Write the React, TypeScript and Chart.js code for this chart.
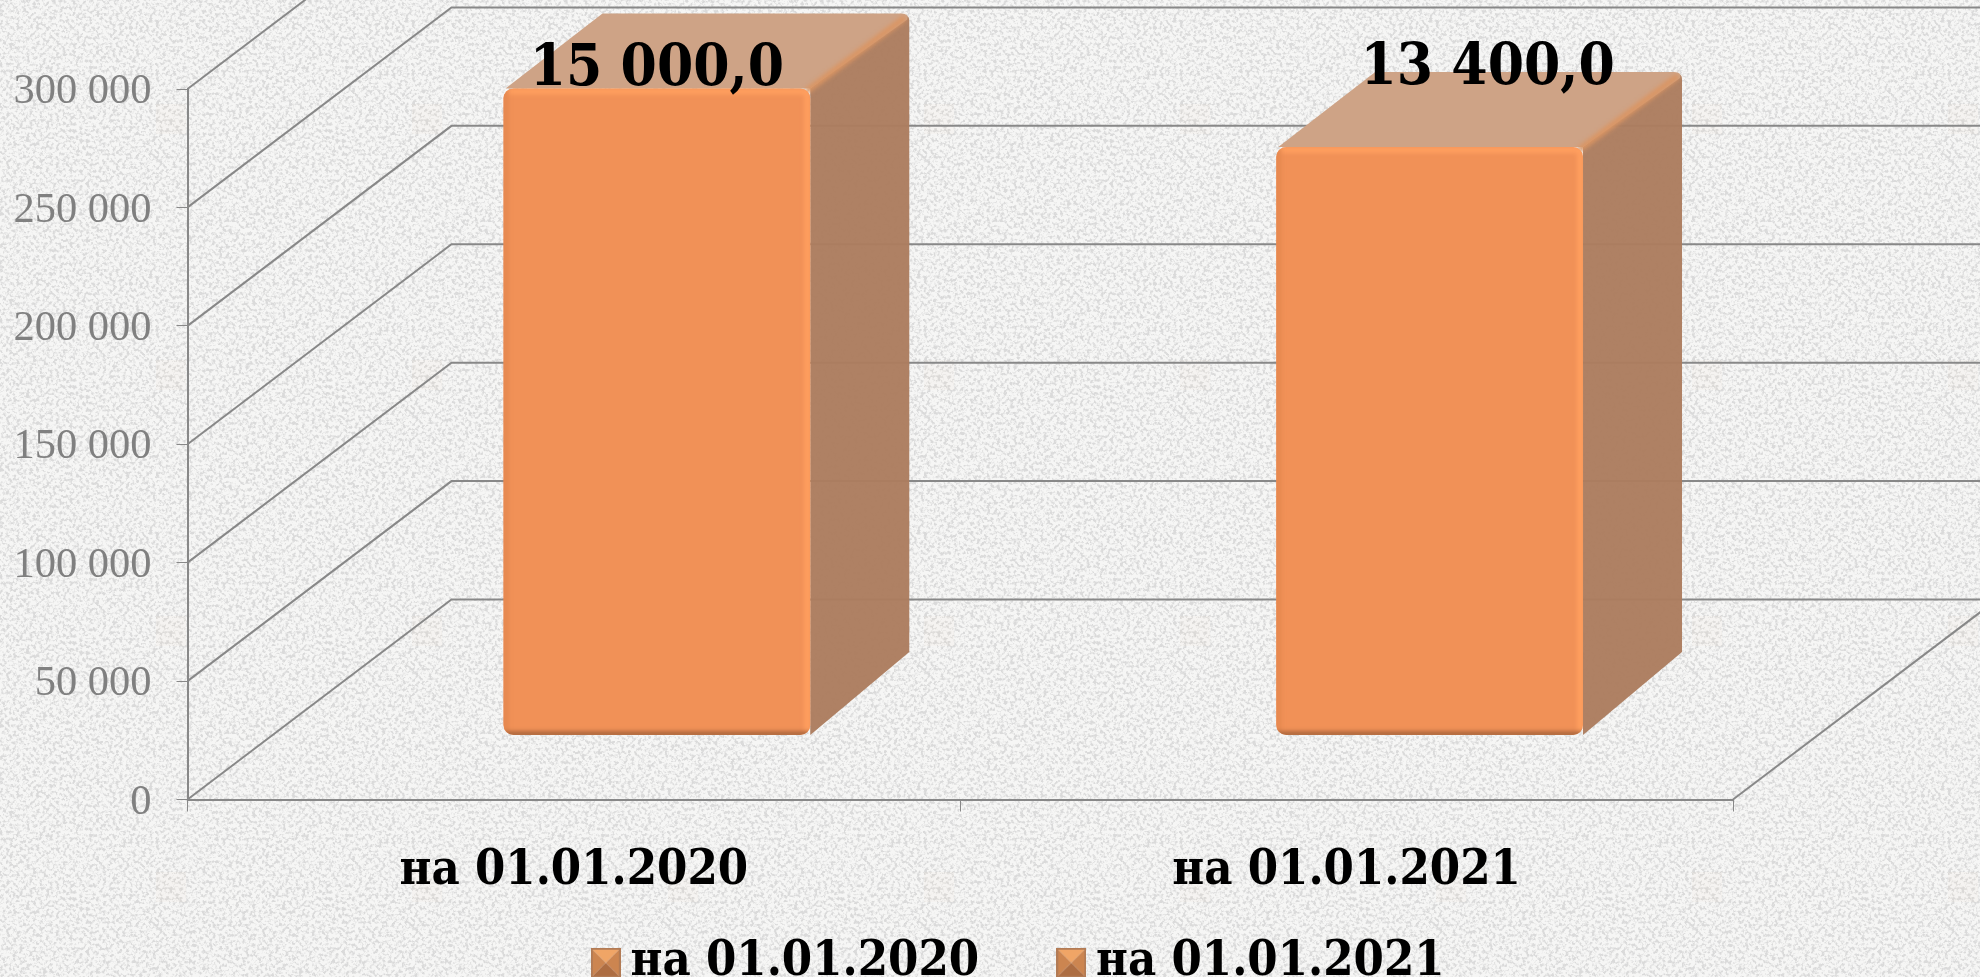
import React, { useEffect, useRef } from "react";
import { Chart, registerables } from "chart.js";

Chart.register(...registerables);

const categories = ["на 01.01.2020", "на 01.01.2021"];
const barValues = [273200, 248500];
const barLabels = ["15 000,0", "13 400,0"];
const yTickLabels = ["0", "50 000", "100 000", "150 000", "200 000", "250 000", "300 000"];

const SERIF = '"Liberation Serif", serif';
const SLAB = '"DejaVu Serif Condensed", "DejaVu Serif", serif';
const WALL = { dx: 264, dy: 200 };
const BAR_SHIFT = { dx: 83, dy: 64 };
const BAR_DEPTH = { dx: 99, dy: 75 };
const LINE = "#888888";
const LEGEND_GAP = "\u00A0\u00A0\u00A0\u00A0\u00A0\u2009";

const tileSvg = `<svg xmlns="http://www.w3.org/2000/svg" width="256" height="256">
<filter id="n" x="0" y="0" width="100%" height="100%">
<feTurbulence type="fractalNoise" baseFrequency="0.3" numOctaves="3" seed="7" stitchTiles="stitch"/>
<feColorMatrix values="0 0 0 0 0.7  0 0 0 0 0.7  0 0 0 0 0.7  4.5 0 0 0 -2.05"/>
</filter>
<rect width="256" height="256" fill="#f6f6f5"/>
<rect width="256" height="256" filter="url(#n)"/>
<rect x="156" y="104" width="30" height="30" fill="#e8c8a8" opacity="0.05"/>
</svg>`;
const tileUrl = `url("data:image/svg+xml,${encodeURIComponent(tileSvg)}")`;

function makeMarker(): HTMLCanvasElement {
  const c = document.createElement("canvas");
  c.width = 30;
  c.height = 30;
  const g = c.getContext("2d")!;
  const tri = (col: string, pts: number[]) => {
    g.fillStyle = col;
    g.beginPath();
    g.moveTo(pts[0], pts[1]);
    g.lineTo(pts[2], pts[3]);
    g.lineTo(15, 15);
    g.closePath();
    g.fill();
  };
  tri("#F0A566", [0, 0, 30, 0]);
  tri("#CC8550", [0, 0, 0, 30]);
  tri("#CC8550", [30, 0, 30, 30]);
  tri("#AD6D42", [0, 30, 30, 30]);
  g.strokeStyle = "#B27B55";
  g.lineWidth = 2;
  g.strokeRect(1, 1, 28, 28);
  return c;
}

const box3d = {
  id: "box3d",
  beforeDatasetsDraw(chart: any) {
    const { ctx, chartArea: a, width } = chart;
    const y = chart.scales.y;
    ctx.save();
    ctx.strokeStyle = LINE;
    ctx.lineWidth = 2;
    y.ticks.forEach((t: any) => {
      const py = y.getPixelForValue(t.value);
      ctx.beginPath();
      ctx.moveTo(a.left, py);
      ctx.lineTo(a.left + WALL.dx, py - WALL.dy);
      ctx.lineTo(width, py - WALL.dy);
      ctx.stroke();
    });
    ctx.beginPath();
    ctx.moveTo(a.right, a.bottom);
    ctx.lineTo(a.right + WALL.dx, a.bottom - WALL.dy);
    ctx.stroke();
    ctx.restore();

    ctx.save();
    ctx.translate(BAR_SHIFT.dx, -BAR_SHIFT.dy);
    ctx.lineJoin = "round";
    chart.getDatasetMeta(0).data.forEach((el: any) => {
      const x0 = el.x - el.width / 2;
      const x1 = el.x + el.width / 2;
      const top = el.y;
      const bot = el.base;
      const { dx, dy } = BAR_DEPTH;
      ctx.fillStyle = "rgba(172,125,95,0.97)";
      ctx.beginPath();
      ctx.moveTo(x1, top);
      ctx.lineTo(x1 + dx - 6, top - dy + 4);
      ctx.quadraticCurveTo(x1 + dx, top - dy, x1 + dx, top - dy + 8);
      ctx.lineTo(x1 + dx, bot - dy - 8);
      ctx.lineTo(x1, bot);
      ctx.closePath();
      ctx.fill();
      ctx.fillStyle = "#CEA386";
      ctx.beginPath();
      ctx.moveTo(x0 + 2, top);
      ctx.lineTo(x0 + dx, top - dy);
      ctx.lineTo(x1 + dx - 8, top - dy);
      ctx.quadraticCurveTo(x1 + dx, top - dy, x1 + dx - 2, top - dy + 6);
      ctx.lineTo(x1, top);
      ctx.closePath();
      ctx.fill();
      ctx.save();
      ctx.filter = "blur(2px)";
      ctx.strokeStyle = "#DA9563";
      ctx.lineWidth = 6;
      ctx.beginPath();
      ctx.moveTo(x1 - 4, top + 3);
      ctx.lineTo(x1 + dx - 4, top - dy + 4);
      ctx.stroke();
      ctx.restore();
    });
  },
  afterDatasetsDraw(chart: any) {
    const { ctx } = chart;
    chart.getDatasetMeta(0).data.forEach((el: any) => {
      const x0 = el.x - el.width / 2;
      const x1 = el.x + el.width / 2;
      const top = el.y;
      const bot = el.base;
      ctx.save();
      ctx.beginPath();
      ctx.roundRect(x0, top, x1 - x0, bot - top, 10);
      ctx.clip();
      ctx.filter = "blur(2px)";
      ctx.lineWidth = 6;
      ctx.strokeStyle = "#FF9F5F";
      ctx.beginPath();
      ctx.moveTo(x0, top + 3);
      ctx.lineTo(x1, top + 3);
      ctx.moveTo(x1 - 3, top);
      ctx.lineTo(x1 - 3, bot);
      ctx.stroke();
      ctx.strokeStyle = "#E5884F";
      ctx.beginPath();
      ctx.moveTo(x0 + 2, top);
      ctx.lineTo(x0 + 2, bot);
      ctx.stroke();
      ctx.strokeStyle = "#A3623A";
      ctx.lineWidth = 5;
      ctx.beginPath();
      ctx.moveTo(x0, bot - 1);
      ctx.lineTo(x1, bot - 1);
      ctx.stroke();
      ctx.restore();
    });
    ctx.restore();

    ctx.save();
    ctx.fillStyle = "#000";
    ctx.font = `bold 58px ${SLAB}`;
    ctx.textAlign = "center";
    ctx.textBaseline = "alphabetic";
    chart.getDatasetMeta(0).data.forEach((el: any, i: number) => {
      const lift = i === 0 ? 0 : 60;
      const slide = i === 0 ? 0 : 58;
      ctx.fillText(barLabels[i], el.x + BAR_SHIFT.dx + slide, el.y - BAR_SHIFT.dy - 3 - lift);
    });
    ctx.restore();
  },
};

export default function App() {
  const ref = useRef<HTMLCanvasElement>(null);
  useEffect(() => {
    const marker = makeMarker();
    const chart = new Chart(ref.current!, {
      type: "bar",
      data: {
        labels: categories,
        datasets: [
          {
            data: barValues,
            backgroundColor: "#F19157",
            borderRadius: 10,
            borderSkipped: false,
            barPercentage: 0.397,
            categoryPercentage: 1,
            clip: false,
          } as any,
        ],
      },
      plugins: [box3d],
      options: {
        responsive: false,
        animation: false,
        layout: { padding: { top: 89, left: 0, right: -70, bottom: -20 } },
        plugins: {
          tooltip: { enabled: false },
          legend: {
            position: "bottom",
            labels: {
              usePointStyle: true,
              pointStyleWidth: 1,
              boxHeight: 30,
              padding: 7,
              color: "#000",
              font: { family: SLAB, size: 48.5, weight: "bold" },
              generateLabels: () =>
                categories.map((text, i) => ({
                  text: i === 0 ? text + LEGEND_GAP : text,
                  pointStyle: marker,
                  datasetIndex: 0,
                  index: i,
                  fillStyle: "#F19157",
                  strokeStyle: "#F19157",
                  lineWidth: 0,
                  fontColor: "#000",
                })),
            },
          },
        },
        scales: {
          x: {
            offset: true,
            grid: { display: true, drawOnChartArea: false, tickLength: 12, color: LINE, offset: true },
            border: { display: true, color: LINE, width: 2 },
            ticks: { color: "#000", padding: 31, font: { family: SLAB, size: 48.5, weight: "bold" }, maxRotation: 0 },
            afterFit(s: any) {
              s.height = 132;
            },
          },
          y: {
            min: 0,
            max: 300000,
            grid: { display: true, drawOnChartArea: false, tickLength: 11, color: LINE },
            border: { display: true, color: LINE, width: 2 },
            ticks: {
              stepSize: 50000,
              color: "#808080",
              padding: 25,
              labelOffset: 3,
              font: { family: SERIF, size: 42.5 },
              callback: (_v: any, i: number) => yTickLabels[i],
            },
            afterFit(s: any) {
              s.width = 187.5;
            },
          },
          spare: {
            position: "right",
            display: true,
            grid: { display: false },
            border: { display: false },
            ticks: { display: false },
            afterFit(s: any) {
              s.width = 317;
            },
          },
        },
      } as any,
    });
    return () => chart.destroy();
  }, []);
  return (
    <div style={{ position: "fixed", inset: 0, backgroundImage: tileUrl }}>
      <canvas ref={ref} width={1980} height={977} style={{ display: "block" }} />
    </div>
  );
}
